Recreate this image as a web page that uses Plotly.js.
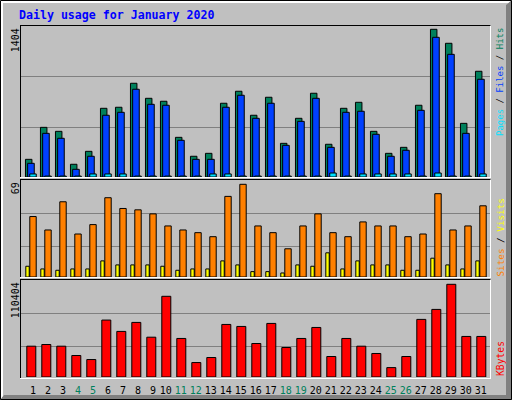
<!DOCTYPE html>
<html>
<head>
<meta charset="utf-8">
<script src="https://cdn.plot.ly/plotly-3.0.1.min.js"></script>
<style>html,body{margin:0;padding:0;background:#C0C0C0;}#chart{width:512px;height:400px;}</style>
</head>
<body>
<div id="chart"></div>
<script>
// ---- data ----
const days   = [1,2,3,4,5,6,7,8,9,10,11,12,13,14,15,16,17,18,19,20,21,22,23,24,25,26,27,28,29,30,31];
const weekendDays = [4,5,11,12,18,19,25,26];
const hits   = [168,472,434,121,244,653,663,891,748,720,377,197,225,701,815,587,758,320,558,796,311,653,710,434,225,282,682,1404,1271,510,1005];
const files  = [130,415,368,73,197,587,615,834,691,682,349,168,168,663,777,558,701,301,529,748,282,615,625,406,197,254,634,1328,1166,415,929];
const pages  = [29,9,9,9,29,29,29,9,9,9,9,9,29,29,9,9,9,9,9,9,38,9,29,29,29,29,9,38,9,9,29];
const visits = [8,6,5,6,6,12,9,9,9,8,5,6,6,12,9,4,4,3,9,8,18,6,12,9,9,5,5,14,9,6,12];
const sites  = [45,35,56,32,39,59,51,50,47,38,35,33,30,60,69,38,33,21,38,47,33,30,41,38,38,30,32,62,35,38,53];
const kbytes = [36700,38700,36700,25600,20800,67800,54300,65000,47400,96100,45900,17200,23200,62600,60200,39900,63800,35100,45900,59000,24400,45900,36700,28000,11200,24400,68600,80500,110404,48300,48300];
const titleText = "Daily usage for January 2020";

// ---- colours ----
const C = {hit:"#00805C", file:"#0040FF", page:"#00E0FF", site:"#FF8000", visit:"#FFFF00", kb:"#FF0000",
           bg:"#C0C0C0", grid:"#808080", dark:"#808080"};

// pixel helpers (512x400, zero margins)
const W = 512, H = 400;
const X = px => px / W;
const Y = px => 1 - px / H;

const maxHits = Math.max(...hits), maxSites = Math.max(...sites), maxKb = Math.max(...kbytes);

const line = {color:"#000", width:1};
function bar(y, vals, color, axis, offset, width) {
  return {type:"bar", x:days, y:vals, yaxis:axis, xaxis:"x", offset:offset, width:width,
          marker:{color:color, line:line}, hoverinfo:"skip"};
}
const traces = [
  bar(0, hits,  C.hit,  "y",  -0.503, 0.433),
  bar(0, files, C.file, "y",  -0.357, 0.44),
  bar(0, pages, C.page, "y",  -0.217, 0.433),
  bar(0, visits, C.visit, "y2", -0.48, 0.227),
  bar(0, sites,  C.site,  "y2", -0.213, 0.427),
  bar(0, kbytes, C.kb,    "y3", -0.413, 0.6)
];

// panels in pixels: [top, baseline]
const P1 = [25, 177], P2 = [180, 277], P3 = [280, 377];
const mkY = (p, max, topPx) => ({
  domain:[Y(p[1]), Y(p[0])],
  range:[0, max * (p[1]-p[0]) / (p[1]-topPx)],
  showgrid:false, zeroline:false, showticklabels:false, ticks:"", showline:false, fixedrange:true
});

const tickText = days.map(d => weekendDays.includes(d)
  ? '<span style="color:' + C.hit + '">' + d + '</span>' : String(d));
const tickVals = days.map(d => d >= 10 ? d - 0.15 : d);

const shapes = [];
function hl(y, x0, x1, color) { shapes.push({type:"line", xref:"paper", yref:"paper", x0:X(x0), x1:X(x1), y0:Y(y), y1:Y(y), line:{color:color, width:1}, layer:"below"}); }
function vl(x, y0, y1, color) { shapes.push({type:"line", xref:"paper", yref:"paper", x0:X(x), x1:X(x), y0:Y(y0), y1:Y(y1), line:{color:color, width:1}, layer:"below"}); }
function poly(pts, color) {
  const d = pts.map((p,i) => (i ? "L" : "M") + X(p[0]) + "," + Y(p[1])).join(" ") + " Z";
  shapes.push({type:"path", xref:"paper", yref:"paper", path:d, fillcolor:color, line:{width:0}, layer:"below"});
}
// outer bevel
poly([[0,0],[512,0],[509,3],[3,3],[3,397],[0,400]], "#FFFFFF");
poly([[512,0],[512,400],[506,396],[506,5]], C.dark);
poly([[0,400],[512,400],[507,395],[4,395]], C.dark);
shapes.push({type:"rect", xref:"paper", yref:"paper", x0:X(0.5), x1:X(511.5), y0:Y(0.5), y1:Y(399.5), line:{color:"#000", width:1}, fillcolor:"rgba(0,0,0,0)", layer:"below"});
// gridlines
[76.5,127.5,213.5,246.5,313.5,346.5].forEach(y => hl(y, 21, 490, C.grid));
// panel frames: black top/left, white bottom/right
[[25.5,177.5],[179.5,277.5],[279.5,378.5]].forEach(p => {
  hl(p[0], 20, 491, "#000");
  vl(20.5, p[0], p[1], "#000");
  hl(p[1], 20, 491, "#FFFFFF");
  vl(490.5, p[0], p[1], "#FFFFFF");
});

const mono = "DejaVu Sans Mono, Liberation Mono, monospace";
const ann = (text, xpx, ypx, yanchor, size) => ({text:text, xref:"paper", yref:"paper", x:X(xpx), y:Y(ypx),
  xanchor:"center", yanchor:yanchor, textangle:-90, showarrow:false, borderpad:0,
  font:{family:mono, size:size, color:"#000"}});
const span = (t, c) => '<span style="color:' + c + '">' + t + '</span>';

const layout = {
  width:W, height:H, margin:{l:0, r:0, t:0, b:0},
  paper_bgcolor:C.bg, plot_bgcolor:"rgba(0,0,0,0)",
  showlegend:false, barmode:"overlay",
  font:{family:mono, size:10, color:"#000"},
  title:{text:"<b>" + titleText + "</b>", x:X(19), xanchor:"left", xref:"paper", y:Y(15), yref:"paper", yanchor:"middle",
         font:{family:mono, size:11.6, color:"#0000FF"}},
  xaxis:{domain:[X(20), X(491)], range:[1 - 13/15, 1 - 13/15 + 471/15], anchor:"free", position:Y(383),
         tickmode:"array", tickvals:tickVals, ticktext:tickText, ticks:"", showgrid:false, zeroline:false, showline:false,
         tickfont:{family:mono, size:10, color:"#000"}, fixedrange:true},
  yaxis:  mkY(P1, maxHits, 29.3),
  yaxis2: mkY(P2, maxSites, 184.3),
  yaxis3: mkY(P3, maxKb, 284.3),
  shapes:shapes,
  annotations:[
    ann(String(maxHits), 15.3, 27, "top", 10),
    ann(String(maxSites), 15.3, 181, "top", 10),
    ann(String(maxKb), 15.3, 281, "top", 10),
    ann(span("Pages", C.page) + " / " + span("Files", C.file) + " / " + span("Hits", C.hit), 500, 27, "top", 9),
    ann(span("Sites", C.site) + " / " + span("Visits", C.visit), 500, 277.5, "bottom", 9.3),
    ann(span("KBytes", C.kb), 500, 377.5, "bottom", 9.7)
  ]
};

Plotly.newPlot("chart", traces, layout, {staticPlot:true, displayModeBar:false});
</script>
</body>
</html>
